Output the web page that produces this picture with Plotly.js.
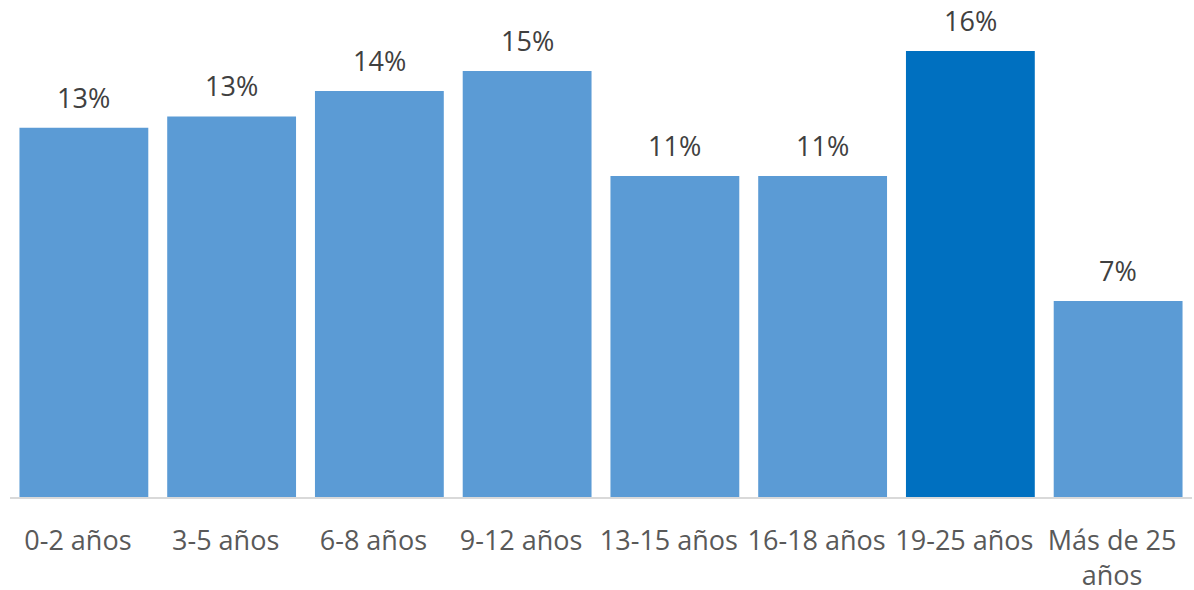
<!DOCTYPE html>
<html><head><meta charset="utf-8">
<script src="https://cdn.plot.ly/plotly-3.0.1.min.js"></script>
<style>html,body{margin:0;padding:0;background:#fff}#chart{width:1194px;height:590px}</style>
</head><body><div id="chart"></div>
<script>
const categories = ['0-2 años','3-5 años','6-8 años','9-12 años','13-15 años','16-18 años','19-25 años','Más de 25<br>años'];
const values = [0.130, 0.134, 0.143, 0.150, 0.113, 0.113, 0.157, 0.069];
const highlight = [false,false,false,false,false,false,true,false];
const baseColor = '#5B9BD5';
const highColor = '#0070C0';

const colors = highlight.map(h => h ? highColor : baseColor);
const annotations = categories.map((c,i) => ({
  x: c, y: values[i], xref:'x', yref:'y',
  text: Math.round(values[i]*100) + '%',
  showarrow:false, yanchor:'bottom', yshift:10,
  font:{family:'Open Sans, sans-serif', size:27, color:'#404040'}
}));

Plotly.newPlot('chart', [{
  type:'bar', x:categories, y:values,
  marker:{color:colors},
  hoverinfo:'none'
}], {
  width:1194, height:590,
  margin:{l:10, r:2, t:0, b:93},
  bargap:0.128,
  paper_bgcolor:'#fff', plot_bgcolor:'#fff',
  showlegend:false,
  xaxis:{showline:true, linecolor:'#D9D9D9', linewidth:1.5, ticks:'', showgrid:false,
    ticklabelstandoff:19, ticklabelshift:-6,
    tickfont:{family:'Open Sans, sans-serif', size:27, color:'#595959'}, tickangle:0, automargin:false},
  yaxis:{visible:false, range:[0,0.175], showgrid:false, zeroline:false},
  annotations: annotations
}, {staticPlot:true, displayModeBar:false});
</script></body></html>
